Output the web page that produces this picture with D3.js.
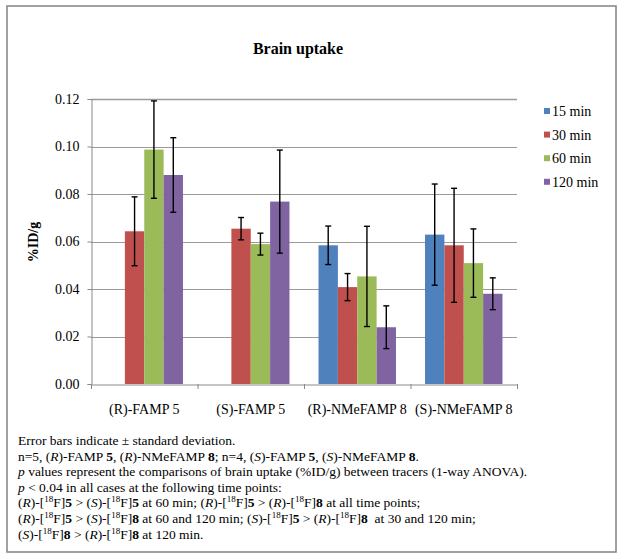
<!DOCTYPE html>
<html><head><meta charset="utf-8">
<script src="https://cdn.jsdelivr.net/npm/d3@7"></script>
<style>
body{margin:0;background:#fff;}
</style></head>
<body><svg id="c" width="624" height="559"></svg>
<script>
const categories = ["(R)-FAMP 5","(S)-FAMP 5","(R)-NMeFAMP 8","(S)-NMeFAMP 8"];
const seriesNames = ["15 min","30 min","60 min","120 min"];
const seriesColors = ["#4F81BD","#C0504D","#9BBB59","#8064A2"];
const mean15  = [null, null, 0.0584, 0.0629];
const mean30  = [0.0643, 0.0654, 0.0408, 0.0584];
const mean60  = [0.0987, 0.0589, 0.0453, 0.0509];
const mean120 = [0.0880, 0.0768, 0.0239, 0.0380];
const sd15  = [null, null, 0.0081, 0.0213];
const sd30  = [0.0145, 0.0047, 0.0057, 0.0240];
const sd60  = [0.0205, 0.0046, 0.0211, 0.0144];
const sd120 = [0.0157, 0.0217, 0.0090, 0.0067];
const yTicks = [0, 0.02, 0.04, 0.06, 0.08, 0.10, 0.12];

const means = [mean15, mean30, mean60, mean120];
const sds = [sd15, sd30, sd60, sd120];
const FONT = "Liberation Serif";

const svg = d3.select("#c");
svg.append("rect").attr("x",7).attr("y",6).attr("width",609).attr("height",546)
  .attr("fill","#fff").attr("stroke","#8a8a8a").attr("stroke-width",1.6);

const pL=91, pR=517, pT=99, pB=384;
const x = d3.scaleBand().domain(categories).range([pL,pR]).paddingInner(0).paddingOuter(0);
const xs = d3.scaleBand().domain(seriesNames).range([0,x.bandwidth()]).paddingInner(0).paddingOuter(0.75);
const y = d3.scaleLinear().domain([0,0.12]).range([pB,pT]);

// title
svg.append("text").attr("x",298).attr("y",54).attr("text-anchor","middle")
  .attr("font-size",16).attr("font-weight","bold").attr("font-family",FONT).text("Brain uptake");

// gridlines
svg.append("g").selectAll("line").data(yTicks.filter(d=>d>0)).join("line")
  .attr("x1",pL).attr("x2",pR).attr("y1",d=>Math.round(y(d))+0.5).attr("y2",d=>Math.round(y(d))+0.5)
  .attr("stroke","#9a9a9a").attr("stroke-width",d=>d===0.12?1.4:1);

// bars
const data = [];
seriesNames.forEach((s,si)=>categories.forEach((c,ci)=>{
  if(means[si][ci]!=null) data.push({s,si,c,v:means[si][ci],sd:sds[si][ci]});
}));
svg.append("g").selectAll("rect").data(data).join("rect")
  .attr("x",d=>x(d.c)+xs(d.s)).attr("width",xs.bandwidth())
  .attr("y",d=>y(d.v)).attr("height",d=>y(0)-y(d.v))
  .attr("fill",d=>seriesColors[d.si]);

// axes
const ya = d3.axisLeft(y).tickValues(yTicks).tickFormat(d3.format(".2f")).tickSize(4).tickPadding(8);
const gy = svg.append("g").attr("transform",`translate(${pL+0.5},0)`).call(ya);
gy.attr("font-family",FONT).attr("font-size",14);
gy.selectAll("text").attr("fill","#000");
gy.selectAll("line,path").attr("stroke","#8a8a8a");

const xa = d3.axisBottom(x).tickSize(0).tickPadding(20);
const gx = svg.append("g").attr("transform",`translate(0,${pB+0.5})`).call(xa);
gx.attr("font-family",FONT).attr("font-size",14);
gx.selectAll("text").attr("fill","#000");
gx.select("path").attr("stroke","#8a8a8a");
svg.append("g").selectAll("line").data(d3.range(categories.length+1)).join("line")
  .attr("x1",i=>i<categories.length?x(categories[i]):pR).attr("x2",i=>i<categories.length?x(categories[i]):pR)
  .attr("y1",pB).attr("y2",pB+5).attr("stroke","#8a8a8a")
  .attr("transform","translate(0.5,0)");

// error bars
const eg = svg.append("g").attr("stroke","#000").attr("stroke-width",1.4);
data.forEach(d=>{
  const cx = x(d.c)+xs(d.s)+xs.bandwidth()/2;
  const y1 = y(d.v+d.sd), y2 = y(d.v-d.sd);
  eg.append("line").attr("x1",cx).attr("x2",cx).attr("y1",y1).attr("y2",y2);
  eg.append("line").attr("x1",cx-3).attr("x2",cx+3).attr("y1",y1).attr("y2",y1);
  eg.append("line").attr("x1",cx-3).attr("x2",cx+3).attr("y1",y2).attr("y2",y2);
});

// y-axis title
svg.append("text").attr("transform","translate(38,242) rotate(-90)").attr("text-anchor","middle")
  .attr("font-size",14).attr("font-weight","bold").attr("font-family",FONT).text("%ID/g");

// legend
const lg = svg.append("g").attr("font-family",FONT);
seriesNames.forEach((s,i)=>{
  const cy = 111 + i*23.6;
  lg.append("rect").attr("x",544).attr("y",cy-3).attr("width",6).attr("height",6).attr("fill",seriesColors[i]);
  lg.append("text").attr("x",552).attr("y",cy+5).attr("font-size",14).text(s);
});

// footnote
const notes = [
  [["Error bars indicate ± standard deviation."]],
  [["n=5, ("],["R","i"],[")-FAMP "],["5","b"],[", ("],["R","i"],[")-NMeFAMP "],["8","b"],["; n=4, ("],["S","i"],[")-FAMP "],["5","b"],[", ("],["S","i"],[")-NMeFAMP "],["8","b"],["."]],
  [["p","i"],[" values represent the comparisons of brain uptake (%ID/g) between tracers (1-way ANOVA)."]],
  [["p","i"],[" < 0.04 in all cases at the following time points:"]],
  [["("],["R","i"],[")-["],["18","sup"],["F]"],["5","b"],[" > ("],["S","i"],[")-["],["18","sup"],["F]"],["5","b"],[" at 60 min; ("],["R","i"],[")-["],["18","sup"],["F]"],["5","b"],[" > ("],["R","i"],[")-["],["18","sup"],["F]"],["8","b"],[" at all time points;"]],
  [["("],["R","i"],[")-["],["18","sup"],["F]"],["5","b"],[" > ("],["S","i"],[")-["],["18","sup"],["F]"],["8","b"],[" at 60 and 120 min; ("],["S","i"],[")-["],["18","sup"],["F]"],["5","b"],[" > ("],["R","i"],[")-["],["18","sup"],["F]"],["8","b"],["  at 30 and 120 min;"]],
  [["("],["S","i"],[")-["],["18","sup"],["F]"],["8","b"],[" > ("],["R","i"],[")-["],["18","sup"],["F]"],["8","b"],[" at 120 min."]]
];
notes.forEach((parts,li)=>{
  const t = svg.append("text").attr("x",18).attr("y",445+li*15.6).attr("font-size",13.5)
    .attr("font-family",FONT).attr("xml:space","preserve");
  let afterSup = false;
  parts.forEach(([s,st])=>{
    const sp = t.append("tspan").text(s);
    if(st==="i") sp.attr("font-style","italic");
    if(st==="b") sp.attr("font-weight","bold");
    if(st==="sup"){ sp.attr("font-size",9).attr("dy",-5); afterSup = true; }
    else if(afterSup){ sp.attr("dy",5); afterSup = false; }
  });
});
</script></body></html>
